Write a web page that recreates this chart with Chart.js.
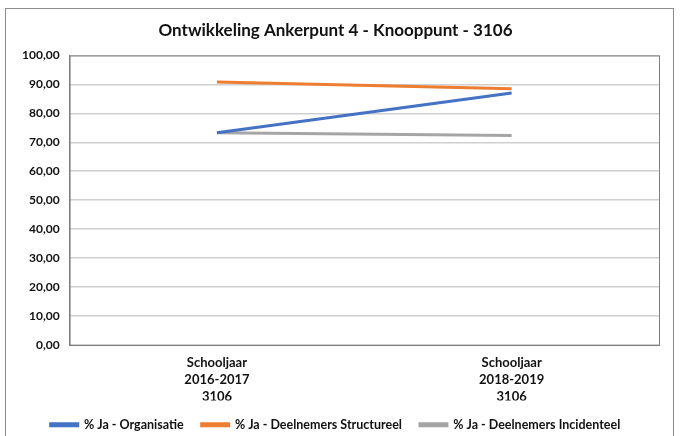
<!DOCTYPE html>
<html>
<head>
<meta charset="utf-8">
<script src="https://cdn.jsdelivr.net/npm/chart.js@4.4.1/dist/chart.umd.min.js"></script>
<style>
  body { margin: 0; background: #fff; }
  .box {
    position: absolute; left: 5px; top: 8px;
    width: 669px; height: 440px;
    border: 1px solid #8c8c8c; box-sizing: border-box;
  }
  canvas { display: block; }
</style>
</head>
<body>
<div class="box"><canvas id="chart" width="667" height="438"></canvas></div>
<script>
const categories = [
  ['Schooljaar', '2016-2017', '3106'],
  ['Schooljaar', '2018-2019', '3106']
];
const organisatie = [73.3, 87.0];
const structureel = [90.8, 88.5];
const incidenteel = [73.3, 72.3];
const yTicks = [0, 10, 20, 30, 40, 50, 60, 70, 80, 90, 100];

const font = 'Lato, "Open Sans", sans-serif';

// box round the plot area, as in the original
const plotFrame = {
  id: 'plotFrame',
  afterDraw(chart) {
    const { ctx, chartArea: a } = chart;
    ctx.save();
    ctx.strokeStyle = '#7f7f7f';
    ctx.lineWidth = 1;
    ctx.strokeRect(a.left + 0.5, a.top + 0.5, a.right - a.left, a.bottom - a.top);
    ctx.restore();
  }
};

new Chart(document.getElementById('chart').getContext('2d'), {
  type: 'line',
  data: {
    labels: categories,
    datasets: [
      { label: '% Ja - Organisatie', data: organisatie, borderColor: '#4472C4', backgroundColor: '#4472C4', borderWidth: 3 },
      { label: '% Ja - Deelnemers Structureel', data: structureel, borderColor: '#ED7D31', backgroundColor: '#ED7D31', borderWidth: 3 },
      { label: '% Ja - Deelnemers Incidenteel', data: incidenteel, borderColor: '#A5A5A5', backgroundColor: '#A5A5A5', borderWidth: 3 }
    ]
  },
  options: {
    responsive: false,
    animation: false,
    elements: {
      line: { tension: 0 },
      point: { radius: 0, hoverRadius: 0 }
    },
    layout: { padding: { left: 6, right: 14, top: 0, bottom: 6 } },
    plugins: {
      title: {
        display: true,
        text: 'Ontwikkeling Ankerpunt 4 - Knooppunt - 3106',
        color: '#111',
        font: { family: font, size: 17, weight: 'bold' },
        padding: { top: 11, bottom: 15 }
      },
      legend: {
        position: 'bottom',
        labels: {
          boxWidth: 27,
          boxHeight: 2,
          color: '#111',
          font: { family: font, size: 12.5, weight: 'bold' },
          padding: 18
        }
      },
      tooltip: { enabled: false }
    },
    scales: {
      x: {
        offset: true,
        grid: { display: false, drawTicks: false },
        border: { display: true, color: '#7f7f7f' },
        afterFit: axis => { axis.height -= 14; },
        ticks: {
          color: '#111',
          padding: 9,
          font: { family: font, size: 13, weight: 'bold', lineHeight: 1.32 },
          maxRotation: 0
        }
      },
      y: {
        min: 0,
        max: 100,
        afterBuildTicks: axis => { axis.ticks = yTicks.map(v => ({ value: v })); },
        grid: { color: '#cfcfcf', lineWidth: 1.5, drawTicks: false },
        border: { display: true, color: '#7f7f7f' },
        ticks: {
          color: '#111',
          padding: 10,
          font: { family: font, size: 12, weight: 'bold' },
          callback: v => v.toFixed(2).replace('.', ',')
        }
      }
    }
  },
  plugins: [plotFrame]
});
</script>
</body>
</html>
